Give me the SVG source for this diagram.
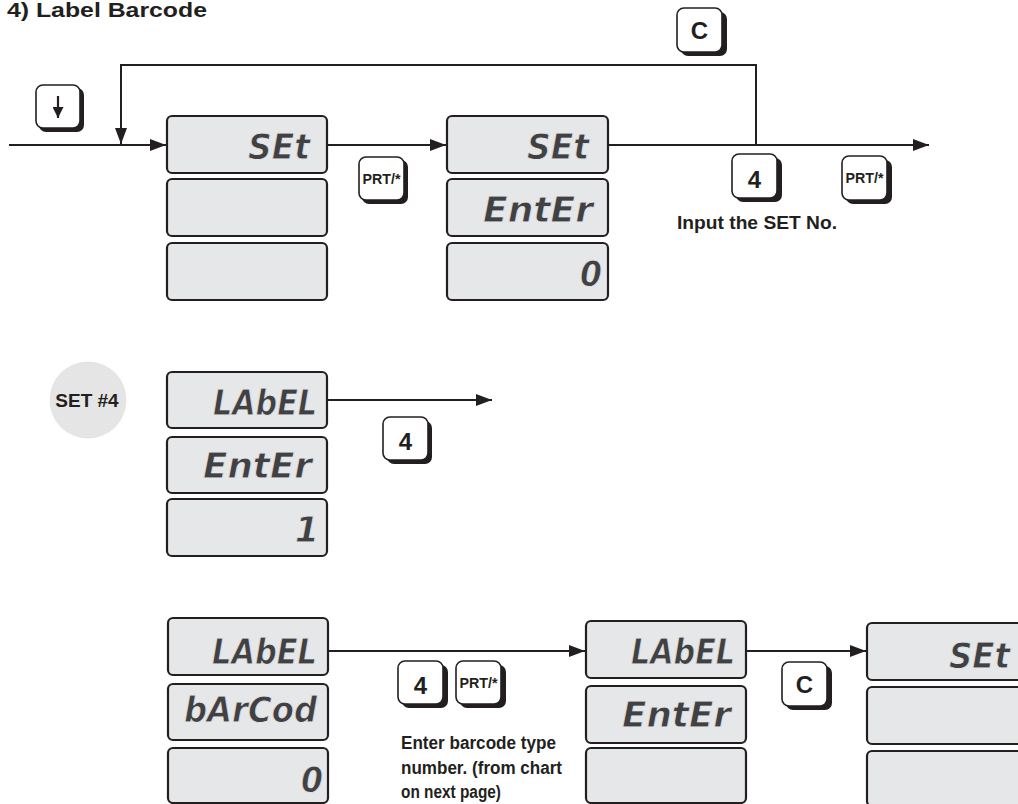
<svg xmlns="http://www.w3.org/2000/svg" width="1018" height="804" viewBox="0 0 1018 804">
<style>
.bg{fill:#ffffff}
.box{fill:#e6e7e8;stroke:#231f20;stroke-width:2.2}
.seg{font-family:"DejaVu Sans",sans-serif;font-weight:bold;font-style:italic;font-size:35px;fill:#414042;stroke:#e6e7e8;stroke-width:0.8}
.ksh{fill:#231f20}
.key{fill:#ffffff;stroke:#231f20;stroke-width:1.6}
.kt{font-family:"Liberation Sans",Arial,sans-serif;font-weight:bold;fill:#231f20;text-anchor:middle}
.k4{font-size:24px}
.kp{font-size:14px}
.txt{font-family:"Liberation Sans",Arial,sans-serif;font-weight:bold;fill:#231f20}
.ln{fill:none;stroke:#231f20;stroke-width:2}
</style>
<defs>
<marker id="ah" viewBox="0 0 16 12" refX="16" refY="6" markerWidth="16" markerHeight="12" markerUnits="userSpaceOnUse" orient="auto">
<path d="M0,0 L16,6 L0,12 Z" fill="#231f20"/>
</marker>
<marker id="ahs" viewBox="0 0 10 10" refX="10" refY="5" markerWidth="12" markerHeight="11" markerUnits="userSpaceOnUse" orient="auto">
<path d="M0,0 L10,5 L0,10 Z" fill="#231f20"/>
</marker>
</defs>
<rect class="bg" x="0" y="0" width="1018" height="804"/>

<text id="title" class="txt" x="7" y="17" font-size="20" textLength="200" lengthAdjust="spacingAndGlyphs">4) Label Barcode</text>

<g id="connectors">
<path class="ln" d="M9,145 H166" marker-end="url(#ah)"/>
<path class="ln" d="M756,145 V65 H121 V144" marker-end="url(#ah)"/>
<path class="ln" d="M327,145 H446" marker-end="url(#ah)"/>
<path class="ln" d="M608,145 H929" marker-end="url(#ah)"/>
<path class="ln" d="M327,400 H492" marker-end="url(#ah)"/>
<path class="ln" d="M328,651 H585" marker-end="url(#ah)"/>
<path class="ln" d="M746,651 H866" marker-end="url(#ah)"/>
</g>

<g id="key-down">
<rect class="ksh" x="39" y="88" width="45" height="44" rx="7"/>
<rect class="key" x="36" y="85" width="44" height="43" rx="7"/>
<path d="M58,96 V118" stroke="#231f20" stroke-width="2.2" fill="none" marker-end="url(#ahs)"/>
</g>

<g id="display1">
<rect class="box" x="167" y="116" width="160" height="57" rx="5"/>
<rect class="box" x="167" y="179" width="160" height="57" rx="5"/>
<rect class="box" x="167" y="243" width="160" height="57" rx="5"/>
<text class="seg" x="248" y="159" textLength="62" lengthAdjust="spacingAndGlyphs">SEt</text>
</g>

<g id="key-prt1">
<rect class="ksh" x="362" y="160" width="46" height="44" rx="7"/>
<rect class="key" x="359" y="157" width="45" height="43" rx="7"/>
<text class="kt kp" x="381.5" y="184" textLength="38" lengthAdjust="spacingAndGlyphs">PRT/*</text>
</g>

<g id="display2">
<rect class="box" x="447" y="116" width="161" height="57" rx="5"/>
<rect class="box" x="447" y="179" width="161" height="57" rx="5"/>
<rect class="box" x="447" y="243" width="161" height="57" rx="5"/>
<text class="seg" x="527" y="159" textLength="62" lengthAdjust="spacingAndGlyphs">SEt</text>
<text class="seg" x="483" y="222" textLength="110" lengthAdjust="spacingAndGlyphs">EntEr</text>
<text class="seg" x="580" y="286" textLength="22" lengthAdjust="spacingAndGlyphs">0</text>
</g>

<g id="key-c1">
<rect class="ksh" x="681" y="12" width="46" height="44" rx="7"/>
<rect class="key" x="677" y="8" width="45" height="44" rx="7"/>
<text class="kt k4" x="699.5" y="39">C</text>
</g>

<g id="key-4a">
<rect class="ksh" x="736" y="158" width="46" height="44" rx="7"/>
<rect class="key" x="732" y="154" width="45" height="44" rx="7"/>
<text class="kt k4" x="754.5" y="188">4</text>
</g>

<g id="key-prt2">
<rect class="ksh" x="846" y="160" width="46" height="44" rx="7"/>
<rect class="key" x="842" y="156" width="45" height="44" rx="7"/>
<text class="kt kp" x="864.5" y="183" textLength="38" lengthAdjust="spacingAndGlyphs">PRT/*</text>
</g>

<text id="note1" class="txt" x="677" y="229" font-size="18" textLength="160" lengthAdjust="spacingAndGlyphs">Input the SET No.</text>

<g id="set4">
<circle cx="88" cy="400" r="38.5" fill="#e5e5e5"/>
<text class="txt" x="87" y="407" font-size="19" text-anchor="middle">SET #4</text>
</g>

<g id="display3">
<rect class="box" x="167" y="372" width="160" height="56" rx="5"/>
<rect class="box" x="167" y="437" width="160" height="56" rx="5"/>
<rect class="box" x="167" y="499" width="160" height="57" rx="5"/>
<text class="seg" x="213" y="415" textLength="104" lengthAdjust="spacingAndGlyphs">LAbEL</text>
<text class="seg" x="203" y="478" textLength="109" lengthAdjust="spacingAndGlyphs">EntEr</text>
<text class="seg" x="319" y="542" text-anchor="end">1</text>
</g>

<g id="key-4b">
<rect class="ksh" x="387" y="421" width="45" height="43" rx="7"/>
<rect class="key" x="383" y="417" width="45" height="43" rx="7"/>
<text class="kt k4" x="405.5" y="450">4</text>
</g>

<g id="display4">
<rect class="box" x="168" y="618" width="160" height="57" rx="5"/>
<rect class="box" x="168" y="684" width="160" height="56" rx="5"/>
<rect class="box" x="168" y="748" width="160" height="55" rx="5"/>
<text class="seg" x="212" y="664" textLength="105" lengthAdjust="spacingAndGlyphs">LAbEL</text>
<text class="seg" x="184" y="722" textLength="133" lengthAdjust="spacingAndGlyphs">bArCod</text>
<text class="seg" x="301" y="792" textLength="22" lengthAdjust="spacingAndGlyphs">0</text>
</g>

<g id="key-4c">
<rect class="ksh" x="402" y="665" width="46" height="43" rx="7"/>
<rect class="key" x="398" y="661" width="45" height="43" rx="7"/>
<text class="kt k4" x="420.5" y="694">4</text>
</g>

<g id="key-prt3">
<rect class="ksh" x="460" y="665" width="46" height="43" rx="7"/>
<rect class="key" x="456" y="661" width="45" height="43" rx="7"/>
<text class="kt kp" x="478.5" y="688" textLength="38" lengthAdjust="spacingAndGlyphs">PRT/*</text>
</g>

<text id="note2" class="txt" font-size="18">
<tspan x="401" y="749" textLength="155" lengthAdjust="spacingAndGlyphs">Enter barcode type</tspan>
<tspan x="401" y="774" textLength="161" lengthAdjust="spacingAndGlyphs">number. (from chart</tspan>
<tspan x="401" y="798" textLength="100" lengthAdjust="spacingAndGlyphs">on next page)</tspan>
</text>

<g id="display5">
<rect class="box" x="586" y="621" width="160" height="57" rx="5"/>
<rect class="box" x="586" y="686" width="160" height="57" rx="5"/>
<rect class="box" x="586" y="748" width="160" height="55" rx="5"/>
<text class="seg" x="631" y="664" textLength="104" lengthAdjust="spacingAndGlyphs">LAbEL</text>
<text class="seg" x="622" y="727" textLength="109" lengthAdjust="spacingAndGlyphs">EntEr</text>
</g>

<g id="key-c2">
<rect class="ksh" x="786" y="666" width="46" height="44" rx="7"/>
<rect class="key" x="782" y="662" width="45" height="44" rx="7"/>
<text class="kt k4" x="804.5" y="693">C</text>
</g>

<g id="display6">
<rect class="box" x="867" y="623" width="160" height="57" rx="5"/>
<rect class="box" x="867" y="687" width="160" height="57" rx="5"/>
<rect class="box" x="867" y="751" width="160" height="55" rx="5"/>
<text class="seg" x="949" y="668" textLength="61" lengthAdjust="spacingAndGlyphs">SEt</text>
</g>
</svg>
